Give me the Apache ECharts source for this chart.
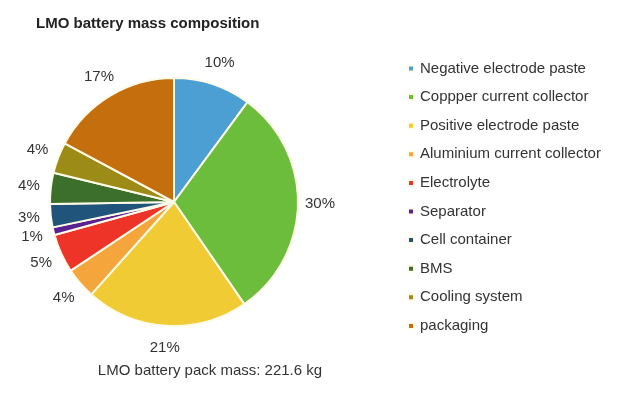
<!DOCTYPE html>
<html><head><meta charset="utf-8">
<script src="https://cdn.jsdelivr.net/npm/echarts@6/dist/echarts.min.js"></script>
<style>html,body{margin:0;padding:0;background:#fff}#c{width:640px;height:394px}</style>
</head><body><div id="c"></div>
<script>
const categories = ["Negative electrode paste","Coppper current collector","Positive electrode paste","Aluminium current collector","Electrolyte","Separator","Cell container","BMS","Cooling system","packaging"];
const shares = [10,30,21,4,5,1,3,4,4,17];
const colors = ["#4b9fd3","#6cbd3c","#f0cb33","#f4a53c","#ee3429","#5a2290","#20547a","#3b6f2b","#9c8b17","#c46e0d"];
const titleText = "LMO battery mass composition";
const subText = "LMO battery pack mass: 221.6 kg";

const CX = 174, CY = 202, R = 124, LABEL_R = 146;
const total = shares.reduce((a,b)=>a+b,0);
function midAngle(i){ let c=0; for(let k=0;k<i;k++) c+=shares[k]; return (c+shares[i]/2)/total*2*Math.PI; }

const chart = echarts.init(document.getElementById('c'));
chart.setOption({
  animation:false,
  color: colors,
  title: [{text:titleText,left:31,top:11,textStyle:{fontFamily:'Liberation Sans, Arial',fontSize:15,fontWeight:'bold',color:'#222'}},
          {text:subText,left:205,top:358,textAlign:'center',textStyle:{fontFamily:'Liberation Sans, Arial',fontSize:15,fontWeight:'normal',color:'#333'}}],
  legend: {orient:'vertical',left:402,top:55,itemWidth:6,itemHeight:6,itemGap:11.6,icon:'rect',
    textStyle:{fontFamily:'Liberation Sans, Arial',fontSize:15,color:'#333',lineHeight:17,padding:[0,0,0,1]}},
  series:[{type:'pie',center:[CX,CY],radius:[0,R],startAngle:90,clockwise:true,
    avoidLabelOverlap:false,
    itemStyle:{borderColor:'#fdfbe8',borderWidth:2},
    label:{show:true,position:'outside',formatter:'{c}%',fontFamily:'Liberation Sans, Arial',fontSize:15,color:'#333'},
    labelLine:{show:false,length:8,length2:0},
    labelLayout: function(p){
      const a = midAngle(p.dataIndex);
      return {x: CX + LABEL_R*Math.sin(a), y: CY - LABEL_R*Math.cos(a), align:'center', verticalAlign:'middle'};
    },
    data: categories.map((n,i)=>({name:n,value:shares[i]}))}]
});
</script></body></html>
